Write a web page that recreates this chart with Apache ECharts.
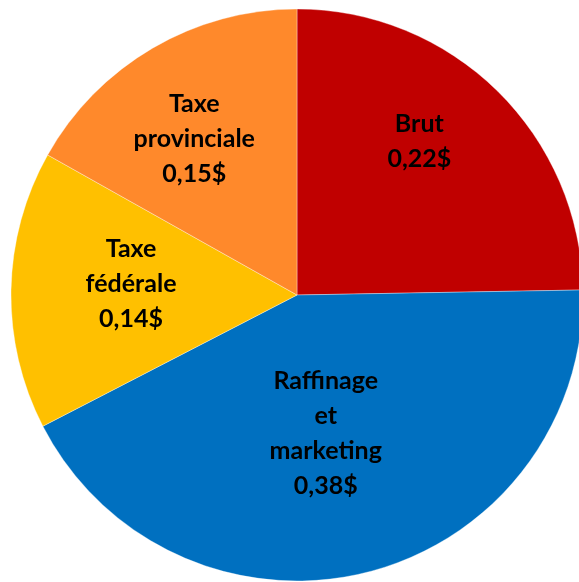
<!DOCTYPE html>
<html lang="fr">
<head>
    <meta charset="UTF-8">
    <title>Prix de l'essence</title>
    <script type="text/javascript" src="https://cdn.jsdelivr.net/npm/echarts@6/dist/echarts.min.js"></script>
    <style>
        html, body { margin: 0; padding: 0; background: #fff; }
        #pieChart { width: 579px; height: 582px; }
    </style>
</head>
<body>
<div id="pieChart"></div>

<script type="text/javascript">
    // parts du prix d'un litre
    var categories = ['Brut', 'Raffinage\net\nmarketing', 'Taxe\nfédérale', 'Taxe\nprovinciale'];
    var values = [0.22, 0.38, 0.14, 0.15];
    var colors = ['#C00000', '#0070C0', '#FFC000', '#FF892B'];

    // petits decalages des etiquettes (comme dans Excel)
    var labelShift = [[20, -49], [-7, -3], [-20, -8], [-29, -30]];

    var pieData = [];
    for (var i = 0; i < categories.length; i++) {
        pieData.push({
            name: categories[i],
            value: values[i],
            itemStyle: { color: colors[i] }
        });
    }

    var pieChart = echarts.init(document.getElementById('pieChart'));

    pieChart.setOption({
        animation: false,
        series: [{
            type: 'pie',
            center: [297, 295],
            radius: 286,
            startAngle: 90,
            clockwise: true,
            silent: true,
            data: pieData,
            itemStyle: {
                borderColor: 'rgba(255,255,255,0.35)',
                borderWidth: 1
            },
            label: {
                show: true,
                position: 'inside',
                color: '#000',
                fontFamily: 'Lato',
                fontWeight: 'bold',
                fontSize: 25,
                lineHeight: 35,
                align: 'center',
                formatter: function(p) {
                    return p.name + '\n' + p.value.toFixed(2).replace('.', ',') + '$';
                }
            },
            labelLine: { show: false },
            labelLayout: function(params) {
                var s = labelShift[params.dataIndex];
                return { dx: s[0], dy: s[1] };
            }
        }]
    });
</script>
</body>
</html>
